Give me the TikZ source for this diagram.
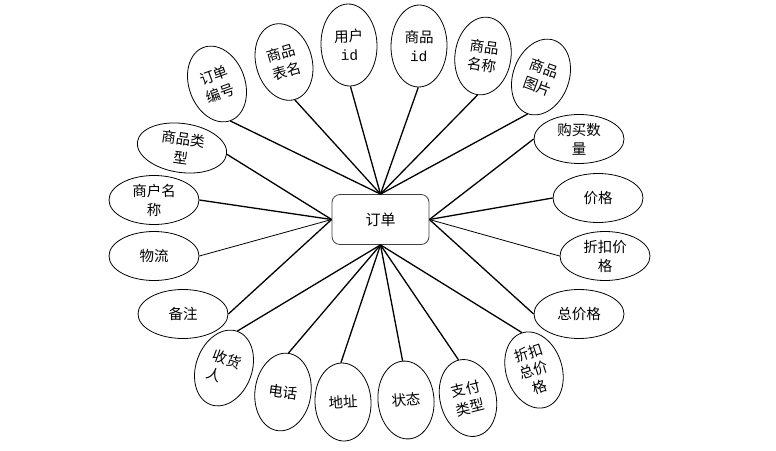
\documentclass[tikz,border=0pt]{standalone}
\usepackage{fontspec}
\newfontfamily\cjk{Noto Sans CJK SC}
\newfontfamily\monof{Liberation Mono}
\usetikzlibrary{shapes.geometric}
\tikzset{
  attr/.style={ellipse, draw, line width=0.8pt, inner sep=0pt, align=center,
    font=\cjk\fontsize{14.5}{19}\selectfont},
  vattr/.style={attr, minimum width=56pt, minimum height=78pt},
  hattr/.style={attr, minimum width=90pt, minimum height=49pt},
  conn/.style={line width=1.3pt},
  thinconn/.style={line width=0.8pt},
  entity/.style={draw=black!75, line width=0.8pt, rounded corners=8pt,
    minimum width=97pt, minimum height=50pt, inner sep=0pt,
    font=\cjk\fontsize{15}{19}\selectfont}
}
\begin{document}
\begin{tikzpicture}[x=1pt,y=-1pt]
\useasboundingbox (0,0) rectangle (776,450);
\node[entity] (dd) at (380.5,219.5) {订单};
% top
\node[vattr, rotate=20] (bh) at (217,84) {订单\\编号};
\node[vattr, rotate=16] (bm) at (284,62) {商品\\表名};
\node[vattr, minimum height=82pt, rotate=2] (yh) at (349,45) {用户\\{\monof id}};
\node[vattr, minimum height=82pt, rotate=-1] (spid) at (419,46) {商品\\{\monof id}};
\node[vattr, rotate=-8] (mc) at (483,56) {商品\\名称};
\node[vattr, rotate=-20] (tp) at (541,77) {商品\\图片};
% right
\node[hattr] (gm) at (579,139) {购买数\\量};
\node[hattr] (jg) at (598,198) {价格};
\node[hattr] (zk) at (605,256) {折扣价\\格};
\node[hattr] (zj) at (579,314) {总价格};
% left
\node[hattr, rotate=-8] (lx) at (182,148) {商品类\\型};
\node[hattr] (sh) at (154,200) {商户名\\称};
\node[hattr] (wl) at (154,256) {物流};
\node[hattr] (bz) at (183,314) {备注};
% bottom
\node[vattr, rotate=-20] (sr) at (224,368) {收货\\人\phantom{货}};
\node[vattr, rotate=-8] (dh) at (283,392) {电话};
\node[vattr, rotate=3] (dz) at (343,402) {地址};
\node[vattr, rotate=5] (zt) at (406,400) {状态};
\node[vattr, rotate=14] (zf) at (468,398) {支付\\类型};
\node[vattr, rotate=18, font=\cjk\fontsize{14.5}{18}\selectfont] (zkz) at (534,370) {折扣\\总价\\格};
% connectors
\foreach \n in {bh,bm,yh,spid,mc,tp} \draw[conn] (\n.south) -- (dd.north);
\foreach \n in {gm,jg,zj} \draw[conn] (\n.west) -- (dd.east);
\draw[thinconn] (zk.west) -- (dd.east);
\foreach \n in {lx,sh,bz} \draw[conn] (\n.east) -- (dd.west);
\draw[thinconn] (wl.east) -- (dd.west);
\foreach \n in {sr,dh,dz,zt,zf,zkz} \draw[conn] (\n.north) -- (dd.south);
\end{tikzpicture}
\end{document}
